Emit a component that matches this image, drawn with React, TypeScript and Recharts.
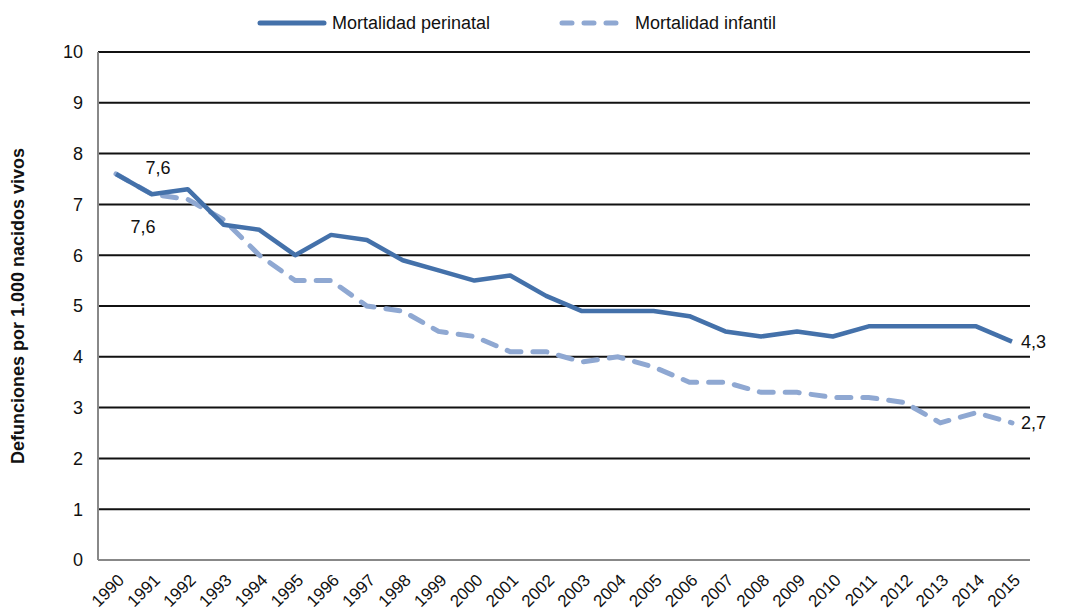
import { LineChart, Line, XAxis, YAxis, CartesianGrid, LabelList, Label } from "recharts";

const years = [
  "1990", "1991", "1992", "1993", "1994", "1995", "1996", "1997", "1998", "1999",
  "2000", "2001", "2002", "2003", "2004", "2005", "2006", "2007", "2008", "2009",
  "2010", "2011", "2012", "2013", "2014", "2015",
];
const perinatal = [
  7.6, 7.2, 7.3, 6.6, 6.5, 6.0, 6.4, 6.3, 5.9, 5.7, 5.5, 5.6, 5.2, 4.9, 4.9, 4.9,
  4.8, 4.5, 4.4, 4.5, 4.4, 4.6, 4.6, 4.6, 4.6, 4.3,
];
const infantil = [
  7.6, 7.2, 7.1, 6.7, 6.0, 5.5, 5.5, 5.0, 4.9, 4.5, 4.4, 4.1, 4.1, 3.9, 4.0, 3.8,
  3.5, 3.5, 3.3, 3.3, 3.2, 3.2, 3.1, 2.7, 2.9, 2.7,
];
const yTicks = [0, 1, 2, 3, 4, 5, 6, 7, 8, 9, 10];

const data = years.map((y, i) => ({ year: y, perinatal: perinatal[i], infantil: infantil[i] }));

const FONT = "'Liberation Sans', Arial, Helvetica, sans-serif";
const DARK = "#4471aa";
const LIGHT = "#8fa8d2";
const last = years.length - 1;

const fmt = (v: number) => v.toFixed(1).replace(".", ",");

// only first and last points get a value label
const endLabel = (firstDx: number, firstDy: number) => (props: any) => {
  const { x, y, value, index } = props;
  if (index === 0) {
    return (
      <text x={x + firstDx} y={y + firstDy} textAnchor="middle" fontSize={18} fill="#111" fontFamily={FONT}>
        {fmt(value)}
      </text>
    );
  }
  if (index === last) {
    return (
      <text x={x + 9} y={y + 6} textAnchor="start" fontSize={18} fill="#111" fontFamily={FONT}>
        {fmt(value)}
      </text>
    );
  }
  return null;
};

const XTick = (props: any) => {
  const { x, y, payload } = props;
  return (
    <g transform={`translate(${x + 5},${y + 9}) rotate(-45)`}>
      <text x={0} y={0} dy={6} textAnchor="end" fontSize={17} fill="#111" fontFamily={FONT}>
        {payload.value}
      </text>
    </g>
  );
};

function Legend() {
  return (
    <svg width={1070} height={44} style={{ position: "absolute", left: 0, top: 0, display: "block" }}>
      <line x1={260} y1={23} x2={324} y2={23} stroke={DARK} strokeWidth={5} strokeLinecap="round" />
      <text x={332} y={29} fontSize={18} fontFamily={FONT} fill="#111">
        Mortalidad perinatal
      </text>
      <line
        x1={562}
        y1={23}
        x2={620}
        y2={23}
        stroke={LIGHT}
        strokeWidth={5}
        strokeLinecap="round"
        strokeDasharray="10 12"
      />
      <text x={635} y={29} fontSize={18} fontFamily={FONT} fill="#111">
        Mortalidad infantil
      </text>
    </svg>
  );
}

export default function App() {
  return (
    <div style={{ position: "absolute", left: 0, top: 0, width: 1070, height: 616, background: "#fff" }}>
      <div style={{ position: "absolute", left: 0, top: 0 }}>
        <LineChart width={1070} height={616} data={data} margin={{ top: 52, right: 40, bottom: 0, left: 0 }}>
          <CartesianGrid horizontal vertical={false} stroke="#111" strokeWidth={2} />
          <XAxis
            dataKey="year"
            interval={0}
            height={56}
            tick={<XTick />}
            tickLine={false}
            axisLine={{ stroke: "#888", strokeWidth: 2 }}
            padding={{ left: 18, right: 18 }}
          />
          <YAxis
            width={98}
            domain={[0, 10]}
            ticks={yTicks}
            tickLine={false}
            tickSize={0}
            tickMargin={15}
            axisLine={{ stroke: "#888", strokeWidth: 2 }}
            tick={{ fontSize: 18, fill: "#111", fontFamily: FONT }}
          >
            <Label
              value="Defunciones por 1.000 nacidos vivos"
              angle={-90}
              position="insideLeft"
              offset={18}
              style={{ textAnchor: "middle", fontSize: 18, fontWeight: 700, fill: "#111", fontFamily: FONT }}
            />
          </YAxis>
          <Line
            type="linear"
            dataKey="infantil"
            stroke={LIGHT}
            strokeWidth={5}
            strokeDasharray="14 12"
            strokeLinecap="round"
            dot={false}
            isAnimationActive={false}
          >
            <LabelList dataKey="infantil" content={endLabel(27, 59)} />
          </Line>
          <Line
            type="linear"
            dataKey="perinatal"
            stroke={DARK}
            strokeWidth={4.5}
            strokeLinejoin="round"
            dot={false}
            isAnimationActive={false}
          >
            <LabelList dataKey="perinatal" content={endLabel(42, 0)} />
          </Line>
        </LineChart>
      </div>
      <Legend />
    </div>
  );
}
